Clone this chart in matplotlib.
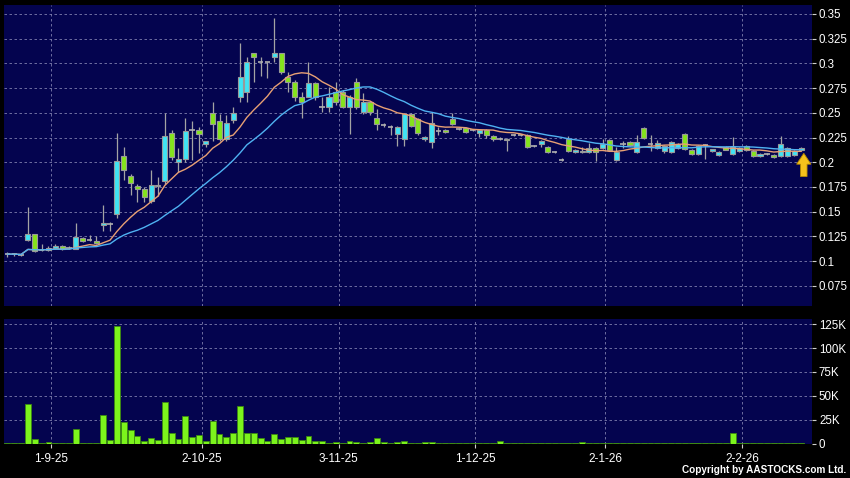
import matplotlib
matplotlib.use('Agg')

import matplotlib.pyplot as plt
from matplotlib.patches import FancyArrow
import numpy as np
import pandas as pd

plt.rcParams['font.family'] = ['Liberation Sans', 'DejaVu Sans']

# daily OHLC, bar 0 = 22-8-25 ... bar 116 = last trading day
opens = [.107, .107, .106, .121, .127, .111, .111, .113, .115, .113,
         .112, .123, .121, .120, .136, .137, .148, .206, .186, .176,
         .173, .161, .177, .181, .230, .200, .203, .233, .233, .218,
         .250, .242, .223, .243, .266, .271, .311, .301, .301, .306,
         .311, .286, .281, .266, .266, .280, .256, .256, .271, .271,
         .256, .281, .251, .261, .245, .238, .236, .229, .223, .249,
         .244, .223, .220, .232, .233, .244, .234, .235, .233, .230,
         .233, .227, .224, .222, .228, .228, .228, .216, .218, .215,
         .210, .202, .224, .210, .210, .210, .214, .214, .222, .202,
         .218, .220, .210, .235, .218, .214, .211, .210, .214, .229,
         .212, .208, .217, .211, .207, .215, .208, .211, .216, .211,
         .206, .208, .207, .206, .206, .207, .212]
highs = [.109, .108, .107, .155, .127, .117, .115, .117, .116, .115,
         .138, .124, .126, .125, .157, .140, .230, .215, .188, .178,
         .175, .192, .185, .250, .233, .214, .245, .242, .236, .221,
         .261, .249, .248, .256, .321, .306, .311, .306, .301, .346,
         .311, .291, .283, .271, .301, .281, .266, .276, .281, .273,
         .268, .285, .270, .262, .254, .240, .238, .237, .250, .250,
         .245, .227, .251, .236, .234, .250, .235, .236, .234, .233,
         .234, .228, .226, .225, .229, .229, .229, .217, .222, .216,
         .211, .204, .227, .213, .215, .219, .215, .224, .223, .215,
         .221, .221, .228, .236, .228, .222, .217, .221, .219, .230,
         .213, .217, .218, .213, .211, .216, .226, .215, .217, .212,
         .209, .209, .208, .227, .215, .212, .215]
lows = [.104, .105, .105, .120, .109, .110, .110, .112, .111, .112,
        .112, .119, .120, .117, .130, .130, .144, .182, .167, .160,
        .160, .159, .166, .178, .202, .190, .200, .202, .209, .215,
        .221, .221, .221, .240, .261, .261, .281, .287, .285, .301,
        .289, .271, .262, .245, .266, .263, .251, .251, .258, .255,
        .229, .254, .249, .248, .233, .236, .228, .216, .216, .236,
        .228, .221, .214, .228, .230, .238, .233, .230, .232, .226,
        .225, .221, .222, .211, .227, .227, .214, .215, .215, .209,
        .209, .201, .210, .209, .209, .209, .201, .213, .211, .201,
        .214, .216, .209, .224, .211, .213, .209, .209, .213, .212,
        .207, .207, .203, .210, .206, .212, .207, .210, .211, .205,
        .205, .207, .204, .205, .205, .206, .211]
closes = [.107, .107, .106, .127, .110, .111, .113, .115, .112, .113,
          .124, .120, .121, .118, .138, .137, .201, .192, .179, .173,
          .165, .177, .176, .227, .205, .203, .232, .233, .229, .221,
          .239, .223, .240, .250, .286, .301, .306, .301, .301, .311,
          .291, .281, .266, .261, .280, .266, .256, .266, .261, .256,
          .266, .256, .261, .251, .239, .238, .236, .236, .249, .237,
          .230, .226, .240, .232, .231, .239, .234, .231, .233, .233,
          .228, .224, .224, .224, .228, .228, .215, .216, .221, .210,
          .210, .202, .211, .212, .211, .214, .210, .218, .212, .210,
          .218, .217, .220, .225, .218, .219, .216, .220, .218, .213,
          .208, .216, .217, .213, .210, .212, .215, .214, .212, .206,
          .208, .208, .205, .218, .214, .211, .214]
volumes_k = [1.0, 0.3, 0.3, 41, 5, 1, 2, 0.3, 0.3, 0.3,
             15, 1, 1, 0.3, 30, 4, 123, 22, 14, 8,
             3, 5.5, 3.5, 43, 11, 4.5, 29, 7, 8.5, 2.5,
             24, 10, 6.5, 11.5, 39, 11, 10.5, 5.5, 2.5, 10,
             5, 7, 6.5, 3.5, 8, 2.5, 2.5, 0.3, 1.5, 0.3,
             2.5, 1.2, 0.3, 1.2, 5.5, 1.5, 0.3, 2, 2.5, 0.3,
             0.3, 1.5, 1.5, 0.4, 0.3, 0.5, 0.3, 0.3, 0.4, 0.3,
             0.3, 0.4, 3, 0.3, 0.3, 0.3, 0.4, 0.3, 0.3, 0.3,
             0.3, 0.4, 0.3, 0.3, 1.5, 0.3, 0.8, 0.3, 0.3, 0.4,
             0.3, 0.3, 0.3, 0.5, 0.3, 0.3, 0.3, 0.3, 0.3, 0.5,
             0.3, 0.3, 0.3, 0.3, 0.3, 0.3, 10.5, 0.3, 0.3, 0.3,
             0.3, 0.6, 0.3, 0.5, 0.3, 0.3, 0.3]

date_labels = ['1-9-25', '2-10-25', '3-11-25', '1-12-25', '2-1-26', '2-2-26']
date_bars = [6, 28, 48, 68, 87, 107]
price_ticks = [0.075, 0.1, 0.125, 0.15, 0.175, 0.2, 0.225, 0.25, 0.275, 0.3, 0.325, 0.35]
price_labels = ['0.075', '0.1', '0.125', '0.15', '0.175', '0.2', '0.225', '0.25',
                '0.275', '0.3', '0.325', '0.35']
vol_ticks = [0, 25, 50, 75, 100, 125]
vol_labels = ['0', '25K', '50K', '75K', '100K', '125K']

o = np.array(opens)
h = np.array(highs)
l = np.array(lows)
c = np.array(closes)
v = np.array(volumes_k)
x = np.arange(len(c))
ma10 = pd.Series(c).rolling(10, min_periods=1).mean()
ma20 = pd.Series(c).rolling(20, min_periods=1).mean()

BG = '#04044f'
GRID = '#7f7fae'
CYAN = '#40e4f4'
GREEN = '#84e41c'
EDGE = '#9a9a9a'

fig = plt.figure(figsize=(8.5, 4.78), dpi=100, facecolor='black')
ax = fig.add_axes([4 / 850, 1 - 306 / 478, 808 / 850, 301 / 478], facecolor=BG)
axv = fig.add_axes([4 / 850, 1 - 443.5 / 478, 808 / 850, 124.5 / 478], facecolor=BG)

xlim = (-0.5, 117.6)
grid_x = [d + 0.4 for d in date_bars]

# price panel
for yv in price_ticks:
    ax.axhline(yv, color=GRID, lw=0.6, ls=(0, (3, 3)), zorder=0)
for gx in grid_x:
    ax.axvline(gx, color=GRID, lw=0.6, ls=(0, (3, 3)), zorder=0)

ax.vlines(x, l, h, color='#a4a4a4', lw=0.9, zorder=2)
up = c > o
down = c < o
flat = c == o
ax.bar(x[up], (c - o)[up], bottom=o[up], width=0.74, color=CYAN,
       edgecolor=EDGE, linewidth=0.8, zorder=3)
ax.bar(x[down], (o - c)[down], bottom=c[down], width=0.74, color=GREEN,
       edgecolor=EDGE, linewidth=0.8, zorder=3)
ax.hlines(c[flat], x[flat] - 0.4, x[flat] + 0.4, color='#b0b0b0', lw=1.2, zorder=3)

ax.plot(x, ma10, color='#e8a074', lw=1.0, zorder=4)
ax.plot(x, ma20, color='#4fb2f2', lw=1.0, zorder=4)

arrow = FancyArrow(116.4, 0.1855, 0, 0.0235, width=0.95, head_width=2.1,
                   head_length=0.011, length_includes_head=True,
                   facecolor='#f6c21c', edgecolor='#b88a00', linewidth=0.6, zorder=5)
ax.add_patch(arrow)

ax.set_xlim(*xlim)
ax.set_ylim(0.0545, 0.3591)
ax.yaxis.tick_right()
ax.set_yticks(price_ticks)
ax.set_yticklabels(price_labels)
ax.set_xticks([])
ax.tick_params(axis='y', colors='#cfcfcf', labelcolor='white', length=3,
               width=0.8, pad=2, labelsize=8.3)

# volume panel
for yv in vol_ticks:
    axv.axhline(yv, color=GRID, lw=0.6, ls=(0, (3, 3)), zorder=0)
for gx in grid_x:
    axv.axvline(gx, color=GRID, lw=0.6, ls=(0, (3, 3)), zorder=0)
axv.bar(x, v, width=0.86, color='#7cf41c', edgecolor='#3c8a10', linewidth=0.6, zorder=2)
axv.set_xlim(*xlim)
axv.set_ylim(0, 130.4)
axv.yaxis.tick_right()
axv.set_yticks(vol_ticks)
axv.set_yticklabels(vol_labels)
axv.set_xticks(grid_x)
axv.set_xticklabels(date_labels)
axv.tick_params(axis='y', colors='#cfcfcf', labelcolor='white', length=3,
                width=0.8, pad=2, labelsize=8.3)
axv.tick_params(axis='x', colors='#cfcfcf', labelcolor='white', length=3,
                width=0.8, pad=4, labelsize=8.5)

for a in (ax, axv):
    for s in a.spines.values():
        s.set_visible(False)

fig.text(0.995, 0.006, 'Copyright by AASTOCKS.com Ltd.', color='white',
         fontsize=7.2, fontweight='bold', ha='right', va='bottom')

fig.savefig('out.png', dpi=100, facecolor='black')
